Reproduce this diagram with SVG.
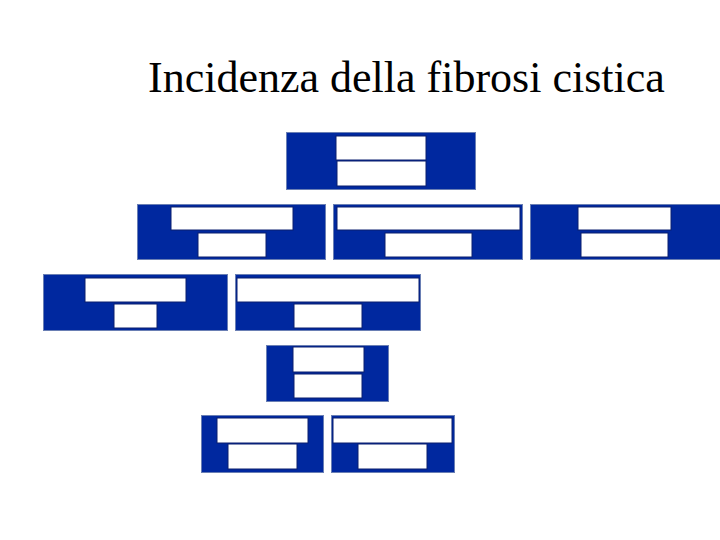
<svg xmlns="http://www.w3.org/2000/svg" width="720" height="540" viewBox="0 0 720 540">
<style>
.title{font-family:"Liberation Serif","Times New Roman",serif;font-size:44px;fill:#000}
.outer{fill:#00289f;stroke:#6a7fb4;stroke-width:1}
.inner{fill:#fff;stroke:#0a1f6e;stroke-width:1}
</style>
<rect width="720" height="540" fill="#fff"/>
<text class="title" x="148" y="92">Incidenza della fibrosi cistica</text>
<g id="connectors"></g>
<g id="n1"><rect class="outer" x="286.5" y="132.5" width="189" height="57"/><rect class="inner" x="336" y="136" width="90" height="24"/><rect class="inner" x="337" y="161" width="89" height="25"/></g>
<g id="n2"><rect class="outer" x="137.5" y="204.5" width="188" height="55"/><rect class="inner" x="171" y="207" width="122" height="23"/><rect class="inner" x="198" y="233" width="68" height="24"/></g>
<g id="n3"><rect class="outer" x="333.5" y="204.5" width="189" height="55"/><rect class="inner" x="337" y="207" width="183" height="23"/><rect class="inner" x="385" y="233" width="87" height="24"/></g>
<g id="n4"><rect class="outer" x="530.5" y="204.5" width="190" height="55"/><rect class="inner" x="578" y="207" width="93" height="23"/><rect class="inner" x="581" y="233" width="87" height="24"/></g>
<g id="n5"><rect class="outer" x="43.5" y="274.5" width="184" height="56"/><rect class="inner" x="85" y="278" width="101" height="24"/><rect class="inner" x="114" y="304" width="43" height="24"/></g>
<g id="n6"><rect class="outer" x="235.5" y="274.5" width="185" height="56"/><rect class="inner" x="237" y="278" width="182" height="24"/><rect class="inner" x="294" y="304" width="68" height="24"/></g>
<g id="n7"><rect class="outer" x="266.5" y="345.5" width="122" height="56"/><rect class="inner" x="293" y="347" width="71" height="25"/><rect class="inner" x="294" y="374" width="68" height="24"/></g>
<g id="n8"><rect class="outer" x="201.5" y="415.5" width="122" height="57"/><rect class="inner" x="217" y="418" width="91" height="25"/><rect class="inner" x="228" y="444" width="69" height="25"/></g>
<g id="n9"><rect class="outer" x="331.5" y="415.5" width="123" height="57"/><rect class="inner" x="333" y="418" width="119" height="25"/><rect class="inner" x="358" y="444" width="69" height="25"/></g>
</svg>
